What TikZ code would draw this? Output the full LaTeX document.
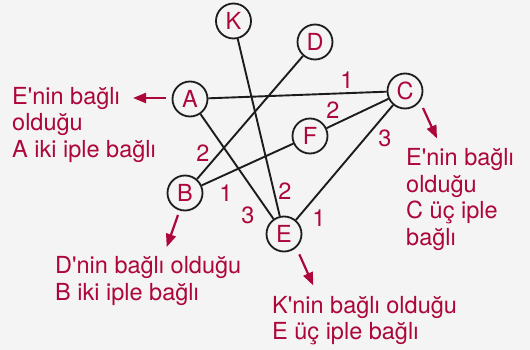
\documentclass[tikz,border=0pt]{standalone}
\usepackage{fontspec}
\setmainfont{TeX Gyre Heros}
\usetikzlibrary{arrows.meta}
\definecolor{crim}{RGB}{172,6,58}
\definecolor{bgc}{RGB}{244,244,244}
\definecolor{ink}{RGB}{28,28,28}
\newcommand{\apo}{\textquotesingle}
\tikzset{
  vtx/.style={circle, draw=ink, line width=1.8pt, minimum size=35pt, inner sep=0pt, text=crim, font=\fontsize{23.5}{26.5}\selectfont},
  edge/.style={draw=ink, line width=1.9pt},
  num/.style={text=crim, inner sep=0pt, font=\fontsize{23.5}{26.5}\selectfont},
  txt/.style={text=crim, inner sep=0pt, anchor=base west, font=\fontsize{23.5}{26.5}\selectfont},
  redarrow/.style={draw=crim, line width=2.2pt, -{Triangle[length=13pt,width=10pt]}}
}
\begin{document}
\begin{tikzpicture}[x=1pt,y=-1pt]
\fill[bgc] (0,0) rectangle (530,350);
\useasboundingbox (0,0) rectangle (530,350);
% vertices
\node[vtx] (K) at (233.5,21) {K};
\node[vtx] (D) at (315,42) {D};
\node[vtx] (A) at (190,99) {A};
\node[vtx] (C) at (405,91) {C};
\node[vtx] (F) at (310,136) {F};
\node[vtx] (B) at (185,193) {B};
\node[vtx] (E) at (284,234) {E};
% edges
\draw[edge] (K) -- (E);
\draw[edge] (D) -- (B);
\draw[edge] (A) -- (C);
\draw[edge] (A) -- (E);
\draw[edge] (B) -- (F);
\draw[edge] (F) -- (C);
\draw[edge] (C) -- (E);
% numbers
\node[num] (n1) at (347,80) {1};
\node[num] (n2) at (333,110) {2};
\node[num] (n3) at (385,138) {3};
\node[num] (n4) at (203,153) {2};
\node[num] (n5) at (226,193) {1};
\node[num] (n6) at (248,215) {3};
\node[num] (n7) at (285,191) {2};
\node[num] (n8) at (319,218) {1};
% texts
\node[txt] (ta1) at (12,104.3) {E\apo nin bağlı};
\node[txt] (ta2) at (12,130.8) {olduğu};
\node[txt] (ta3) at (12,157.3) {A iki iple bağlı};
\node[txt] (tc1) at (406,165.7) {E\apo nin bağlı};
\node[txt] (tc2) at (406,192.2) {olduğu};
\node[txt] (tc3) at (406,218.7) {C üç iple};
\node[txt] (tc4) at (406,245.2) {bağlı};
\node[txt] (tb1) at (55,273.8) {D\apo nin bağlı olduğu};
\node[txt] (tb2) at (55,300.3) {B iki iple bağlı};
\node[txt] (te1) at (272,313.3) {K\apo nin bağlı olduğu};
\node[txt] (te2) at (272,339.5) {E üç iple bağlı};
% arrows
\coordinate (a0) at (166,98);
\coordinate (a1) at (133,98);
\coordinate (c0) at (423,108);
\coordinate (c1) at (437,138.5);
\coordinate (b0) at (178,215);
\coordinate (b1) at (166.7,247);
\coordinate (e0) at (299.3,254.3);
\coordinate (e1) at (313.3,285.5);
\draw[redarrow] (a0) -- (a1);
\draw[redarrow] (c0) -- (c1);
\draw[redarrow] (b0) -- (b1);
\draw[redarrow] (e0) -- (e1);
\end{tikzpicture}
\end{document}
